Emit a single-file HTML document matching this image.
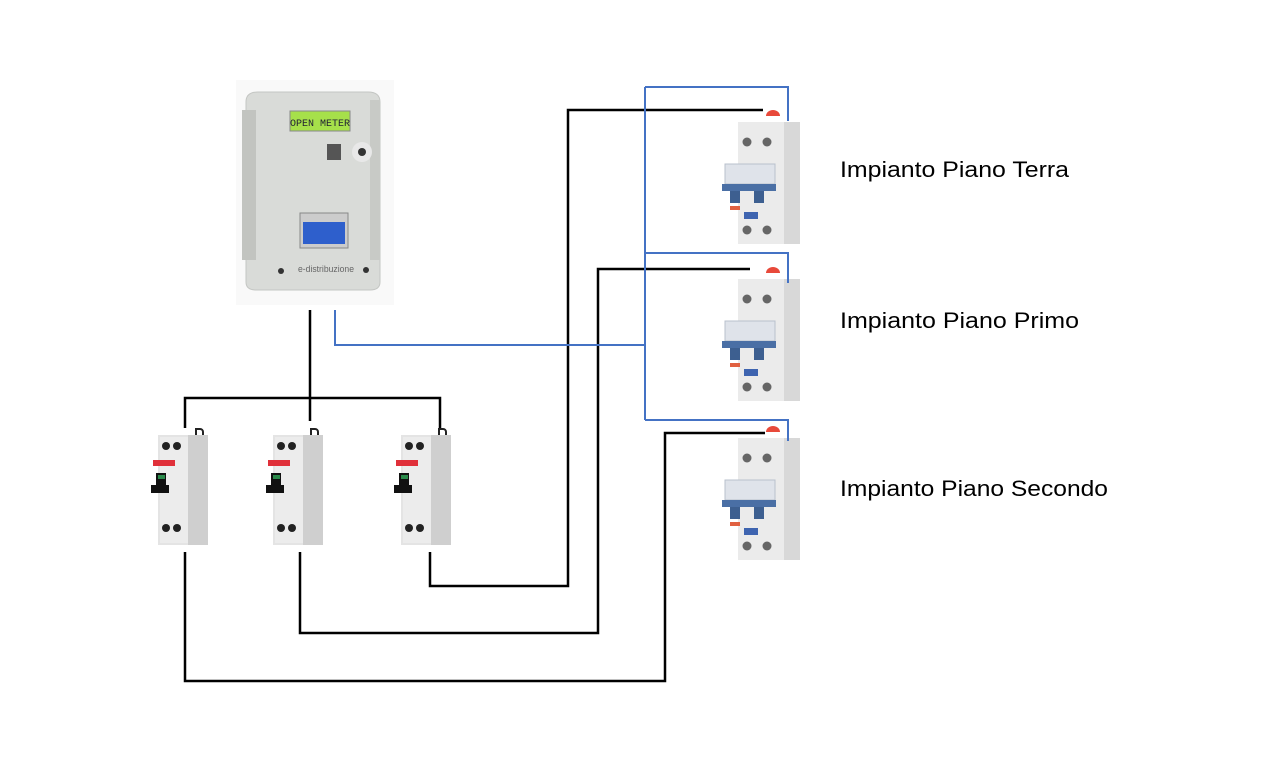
<!DOCTYPE html>
<html><head><meta charset="utf-8"><style>
html,body{margin:0;padding:0;background:#fff;width:1284px;height:775px;overflow:hidden}
</style></head><body>
<svg width="1284" height="775" viewBox="0 0 1284 775" xmlns="http://www.w3.org/2000/svg">
<defs>
<g id="mcb">
 <path d="M0 6v-6h4a3 3 0 0 1 3 3v5" fill="none" stroke="#222" stroke-width="2" transform="translate(48,4)"/>
 <rect x="10" y="10" width="50" height="110" fill="#e4e4e4"/>
 <rect x="40" y="10" width="20" height="110" fill="#cfcfcf"/>
 <rect x="12" y="12" width="28" height="106" fill="#ececec"/>
 <circle cx="18" cy="21" r="4" fill="#222"/><circle cx="29" cy="21" r="4" fill="#222"/>
 <rect x="5" y="35" width="22" height="6" fill="#e0303a"/>
 <rect x="8" y="48" width="10" height="14" fill="#111"/>
 <rect x="3" y="60" width="18" height="8" fill="#111"/>
 <rect x="10" y="50" width="7" height="4" fill="#2a8a4a"/>
 <circle cx="18" cy="103" r="4" fill="#222"/><circle cx="29" cy="103" r="4" fill="#222"/>
</g>
<g id="rcbo">
 <path d="M46 -4a7 6 0 0 1 14 0z" fill="#e8493a"/>
 <rect x="18" y="2" width="62" height="122" fill="#ebebeb"/>
 <rect x="64" y="2" width="16" height="122" fill="#d8d8d8"/>
 <circle cx="27" cy="22" r="4.5" fill="#666"/><circle cx="47" cy="22" r="4.5" fill="#666"/>
 <rect x="5" y="44" width="50" height="20" fill="#dfe3ea" stroke="#b9c0cc"/>
 <rect x="2" y="64" width="54" height="7" fill="#4a6fa5"/>
 <rect x="10" y="71" width="10" height="12" fill="#3d5f90"/><rect x="34" y="71" width="10" height="12" fill="#3d5f90"/>
 <rect x="10" y="86" width="10" height="4" fill="#e06040"/>
 <rect x="24" y="92" width="14" height="7" fill="#3e64b0"/>
 <circle cx="27" cy="110" r="4.5" fill="#666"/><circle cx="47" cy="110" r="4.5" fill="#666"/>
</g>
</defs>

<!-- meter -->
<rect x="236" y="80" width="158" height="225" fill="#f9f9f9"/>
<path d="M258 92h110q12 0 12 10v180q0 8-10 8h-114q-10 0-10-8v-180q0-10 12-10z" fill="#d9dbd8" stroke="#c4c6c3"/>
<rect x="242" y="110" width="14" height="150" fill="#c2c4c0"/>
<rect x="370" y="100" width="10" height="160" fill="#c8cac6"/>
<rect x="290" y="111" width="60" height="20" fill="#a6e04a" stroke="#888"/>
<text x="320" y="126" font-family="Liberation Mono, monospace" font-size="10" text-anchor="middle" fill="#223">OPEN METER</text>
<circle cx="362" cy="152" r="10" fill="#e8e8e8"/><circle cx="362" cy="152" r="4" fill="#333"/>
<rect x="327" y="144" width="14" height="16" fill="#555"/>
<rect x="300" y="213" width="48" height="35" fill="#ccc" stroke="#888"/>
<rect x="303" y="222" width="42" height="22" fill="#2e5fcc"/>
<text x="298" y="272" font-family="Liberation Sans, sans-serif" font-size="9" fill="#666" textLength="56" lengthAdjust="spacingAndGlyphs">e-distribuzione</text>
<circle cx="281" cy="271" r="3" fill="#333"/><circle cx="366" cy="270" r="3" fill="#333"/>

<!-- breakers -->
<use href="#mcb" x="148" y="425"/>
<use href="#mcb" x="263" y="425"/>
<use href="#mcb" x="391" y="425"/>
<use href="#rcbo" x="720" y="120"/>
<use href="#rcbo" x="720" y="277"/>
<use href="#rcbo" x="720" y="436"/>

<!-- black wires -->
<g fill="none" stroke="#000" stroke-width="2.5">
 <path d="M310 310V421"/>
 <path d="M185 428V398H440V428"/>
 <path d="M430 552V586H568V110H763"/>
 <path d="M300 552V633H598V269H750"/>
 <path d="M185 552V681H665V433H765"/>
</g>
<!-- blue wires -->
<g fill="none" stroke="#4472c4" stroke-width="2">
 <path d="M335 310V345H645"/>
 <path d="M645 87V420"/>
 <path d="M645 87H788V121"/>
 <path d="M645 253H788V283"/>
 <path d="M645 420H788V441"/>
</g>

<g font-family="Liberation Sans, sans-serif" font-size="22" fill="#000">
 <text x="840" y="177" textLength="229" lengthAdjust="spacingAndGlyphs">Impianto Piano Terra</text>
 <text x="840" y="328" textLength="239" lengthAdjust="spacingAndGlyphs">Impianto Piano Primo</text>
 <text x="840" y="496" textLength="268" lengthAdjust="spacingAndGlyphs">Impianto Piano Secondo</text>
</g>
</svg>
</body></html>
